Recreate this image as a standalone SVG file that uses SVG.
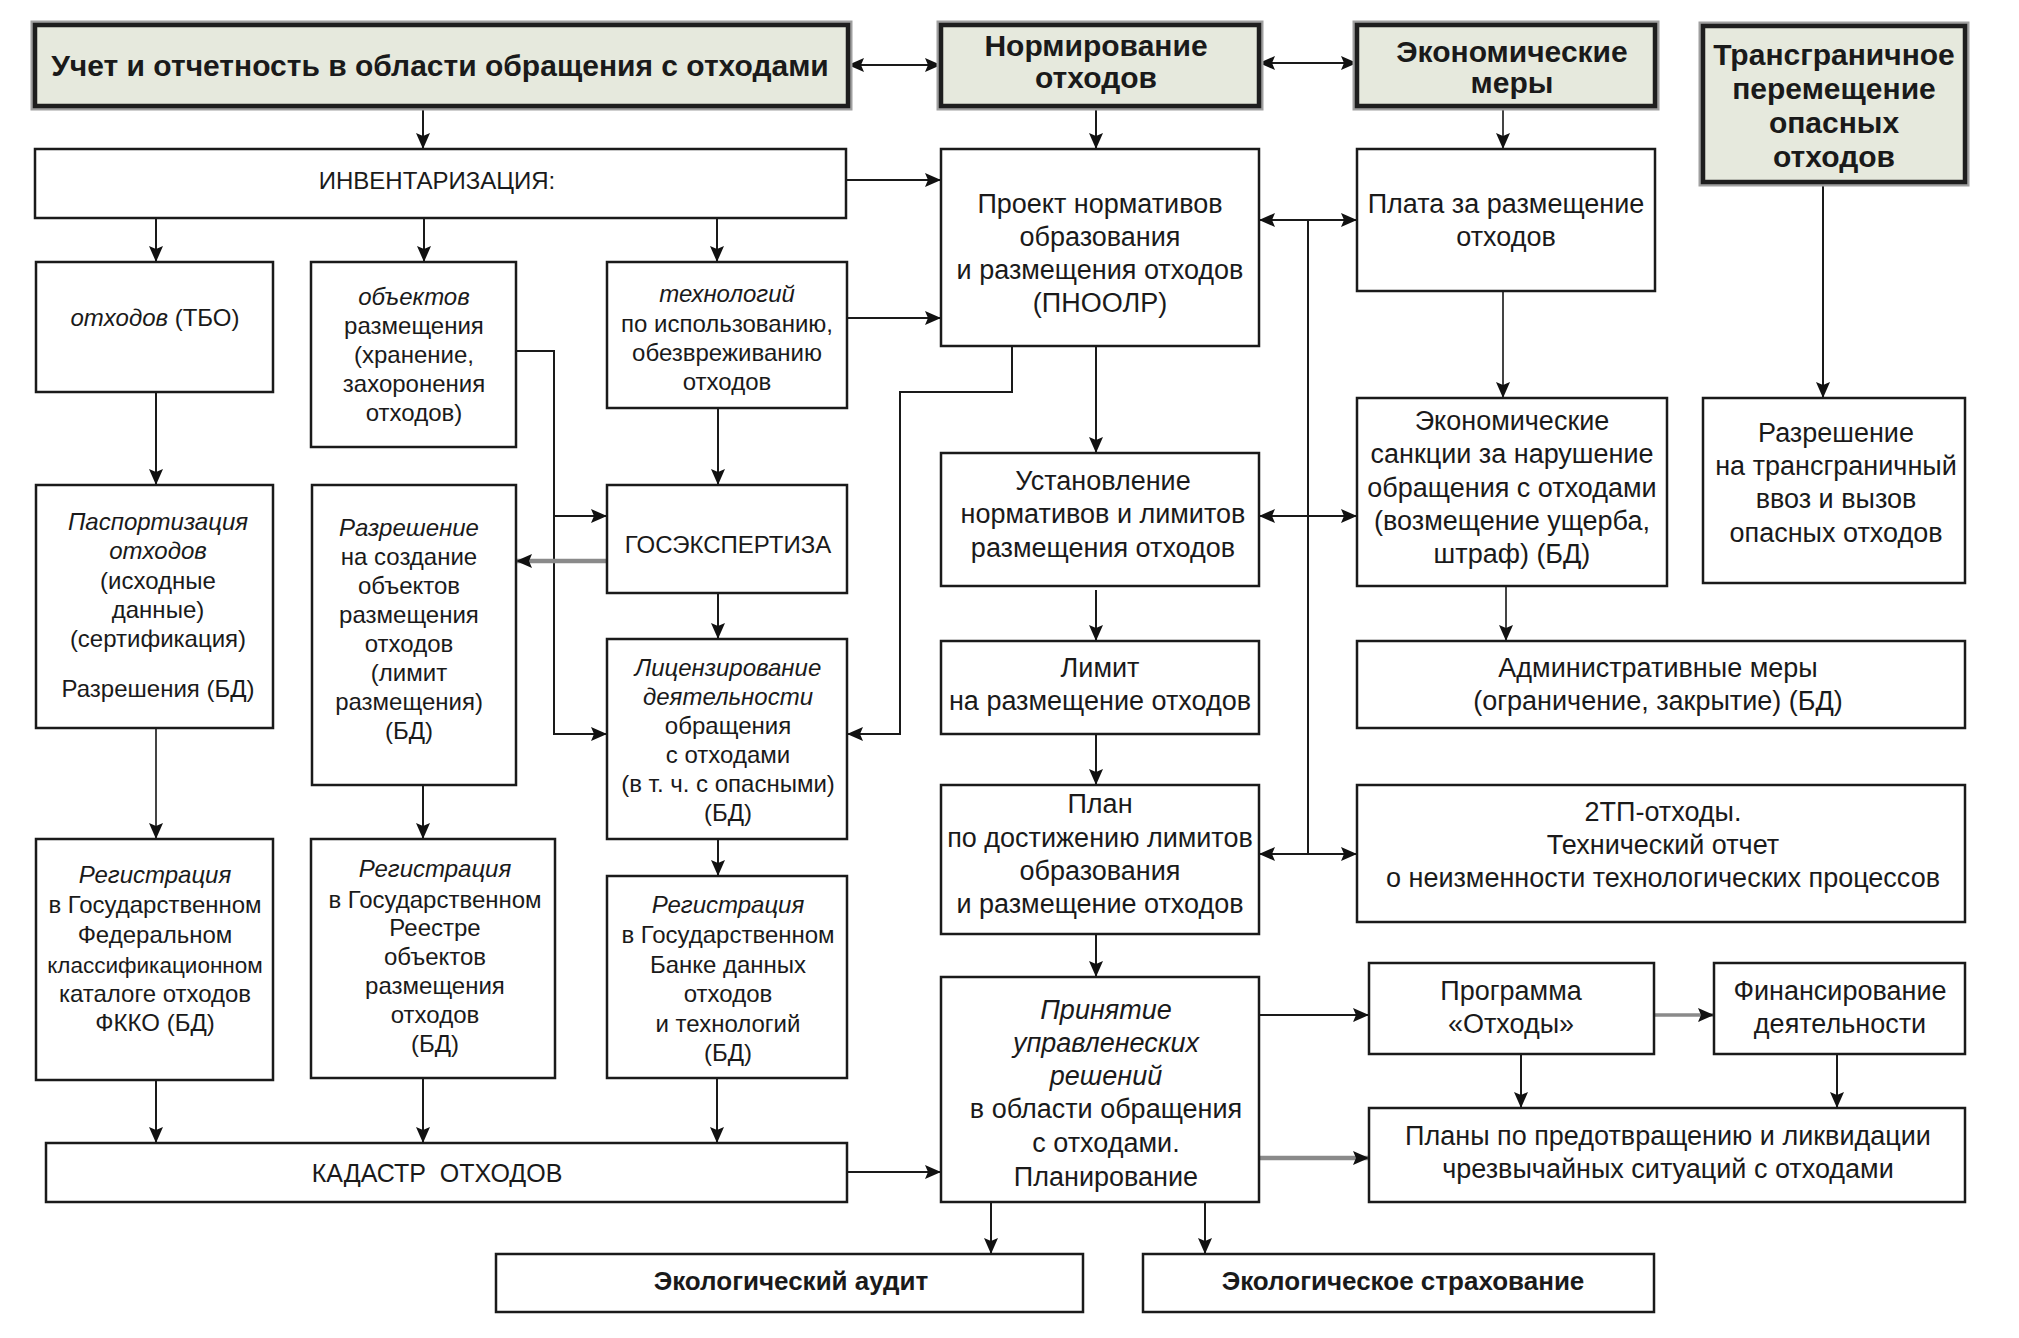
<svg xmlns="http://www.w3.org/2000/svg" width="2019" height="1338" viewBox="0 0 2019 1338">
<style>
.box{fill:#fff;stroke:#1a1a1a;stroke-width:2.5}
.hdr{fill:#e6e9dd;stroke:#1e1e1e;stroke-width:4.5}
.hdrs{fill:none;stroke:#a0a0a0;stroke-width:9}
.t{font-family:"Liberation Sans",Arial,sans-serif;fill:#1a1a1a;text-anchor:middle}
.s24{font-size:24px}
.s25{font-size:25px}
.s27{font-size:27px}
.b{font-weight:bold;font-size:30px}
.b26{font-weight:bold;font-size:26px}
.i{font-style:italic}
.ln{fill:none;stroke:#1a1a1a;stroke-width:2}
.gr{fill:none;stroke:#8a8a8a;stroke-width:4.5}
.g3{fill:none;stroke:#8a8a8a;stroke-width:3.5}
.dk{fill:none;stroke:#444;stroke-width:2}
</style>
<defs>
<marker id="ar" viewBox="0 0 16 16" refX="16" refY="8" markerWidth="16" markerHeight="16" markerUnits="userSpaceOnUse" orient="auto-start-reverse">
<path d="M0,1 L16,8 L0,15 L3,8 z" fill="#111"/>
</marker>
</defs>
<rect width="2019" height="1338" fill="#fff"/>

<g id="connectors">
<path class="ln" d="M848,65 H941" marker-start="url(#ar)" marker-end="url(#ar)"/>
<path class="ln" d="M1259,63 H1357" marker-start="url(#ar)" marker-end="url(#ar)"/>
<path class="ln" d="M423,106 V149" marker-end="url(#ar)"/>
<path class="ln" d="M1096,106 V149" marker-end="url(#ar)"/>
<path class="dk" d="M1503,106 V149" marker-end="url(#ar)"/>
<path class="ln" d="M1823,182 V398" marker-end="url(#ar)"/>
<path class="ln" d="M846,180 H941" marker-end="url(#ar)"/>
<path class="ln" d="M847,318 H941" marker-end="url(#ar)"/>
<path class="ln" d="M156,218 V262" marker-end="url(#ar)"/>
<path class="ln" d="M424,218 V262" marker-end="url(#ar)"/>
<path class="ln" d="M717,218 V262" marker-end="url(#ar)"/>
<path class="ln" d="M516,351 H554 V734 H607" marker-end="url(#ar)"/>
<path class="ln" d="M554,516 H607" marker-end="url(#ar)"/>
<path class="ln" d="M718,408 V485" marker-end="url(#ar)"/>
<path class="gr" d="M607,561 H516" marker-end="url(#ar)"/>
<path class="ln" d="M718,593 V639" marker-end="url(#ar)"/>
<path class="ln" d="M1012,346 V392 H900 V734 H847" marker-end="url(#ar)"/>
<path class="ln" d="M1096,346 V453" marker-end="url(#ar)"/>
<path class="ln" d="M1308,220 V854"/>
<path class="ln" d="M1259,220 H1357" marker-start="url(#ar)" marker-end="url(#ar)"/>
<path class="ln" d="M1259,516 H1357" marker-start="url(#ar)" marker-end="url(#ar)"/>
<path class="ln" d="M1259,854 H1357" marker-start="url(#ar)" marker-end="url(#ar)"/>
<path class="dk" d="M1503,291 V398" marker-end="url(#ar)"/>
<path class="dk" d="M1506,586 V641" marker-end="url(#ar)"/>
<path class="ln" d="M1096,590 V641" marker-end="url(#ar)"/>
<path class="ln" d="M1096,734 V785" marker-end="url(#ar)"/>
<path class="ln" d="M1096,934 V977" marker-end="url(#ar)"/>
<path class="ln" d="M156,392 V485" marker-end="url(#ar)"/>
<path class="dk" d="M156,728 V839" marker-end="url(#ar)"/>
<path class="ln" d="M423,785 V839" marker-end="url(#ar)"/>
<path class="ln" d="M718,839 V876" marker-end="url(#ar)"/>
<path class="ln" d="M156,1080 V1143" marker-end="url(#ar)"/>
<path class="ln" d="M423,1078 V1143" marker-end="url(#ar)"/>
<path class="ln" d="M717,1078 V1143" marker-end="url(#ar)"/>
<path class="ln" d="M847,1172 H941" marker-end="url(#ar)"/>
<path class="ln" d="M1259,1015 H1369" marker-end="url(#ar)"/>
<path class="g3" d="M1654,1015 H1714" marker-end="url(#ar)"/>
<path class="ln" d="M1521,1054 V1108" marker-end="url(#ar)"/>
<path class="ln" d="M1837,1054 V1108" marker-end="url(#ar)"/>
<path class="gr" d="M1259,1158 H1369" marker-end="url(#ar)"/>
<path class="ln" d="M991,1202 V1254" marker-end="url(#ar)"/>
<path class="ln" d="M1205,1202 V1254" marker-end="url(#ar)"/>
</g>

<g id="n-uchet">
<rect class="hdrs" x="35" y="25" width="813" height="81"/>
<rect class="hdr" x="35" y="25" width="813" height="81"/>
<text class="t b" x="440" y="76">Учет и отчетность в области обращения с отходами</text>
</g>
<g id="n-normirovanie">
<rect class="hdrs" x="941" y="25" width="318" height="81"/>
<rect class="hdr" x="941" y="25" width="318" height="81"/>
<text class="t b"><tspan x="1096" y="56">Нормирование</tspan><tspan x="1096" y="88">отходов</tspan></text>
</g>
<g id="n-ekonom">
<rect class="hdrs" x="1357" y="25" width="298" height="81"/>
<rect class="hdr" x="1357" y="25" width="298" height="81"/>
<text class="t b"><tspan x="1512" y="62">Экономические</tspan><tspan x="1512" y="93">меры</tspan></text>
</g>
<g id="n-transgr">
<rect class="hdrs" x="1703" y="26" width="262" height="156"/>
<rect class="hdr" x="1703" y="26" width="262" height="156"/>
<text class="t b"><tspan x="1834" y="65">Трансграничное</tspan><tspan x="1834" y="99">перемещение</tspan><tspan x="1834" y="133">опасных</tspan><tspan x="1834" y="167">отходов</tspan></text>
</g>

<g id="n-inventar">
<rect class="box" x="35" y="149" width="811" height="69"/>
<text class="t s24" x="437" y="189">ИНВЕНТАРИЗАЦИЯ:</text>
</g>
<g id="n-proekt">
<rect class="box" x="941" y="149" width="318" height="197"/>
<text class="t s27"><tspan x="1100" y="213">Проект нормативов</tspan><tspan x="1100" y="246">образования</tspan><tspan x="1100" y="279">и размещения отходов</tspan><tspan x="1100" y="312">(ПНООЛР)</tspan></text>
</g>
<g id="n-plata">
<rect class="box" x="1357" y="149" width="298" height="142"/>
<text class="t s27"><tspan x="1506" y="213">Плата за размещение</tspan><tspan x="1506" y="246">отходов</tspan></text>
</g>
<g id="n-tbo">
<rect class="box" x="36" y="262" width="237" height="130"/>
<text class="t s24" x="155" y="326"><tspan class="i">отходов</tspan> (ТБО)</text>
</g>
<g id="n-obyektov">
<rect class="box" x="311" y="262" width="205" height="185"/>
<text class="t s24"><tspan class="i" x="414" y="305">объектов</tspan><tspan x="414" y="334">размещения</tspan><tspan x="414" y="363">(хранение,</tspan><tspan x="414" y="392">захоронения</tspan><tspan x="414" y="421">отходов)</tspan></text>
</g>
<g id="n-tehnologiy">
<rect class="box" x="607" y="262" width="240" height="146"/>
<text class="t s24"><tspan class="i" x="727" y="302">технологий</tspan><tspan x="727" y="332">по использованию,</tspan><tspan x="727" y="361">обезвреживанию</tspan><tspan x="727" y="390">отходов</tspan></text>
</g>
<g id="n-sankcii">
<rect class="box" x="1357" y="398" width="310" height="188"/>
<text class="t s27"><tspan x="1512" y="430">Экономические</tspan><tspan x="1512" y="463">санкции за нарушение</tspan><tspan x="1512" y="497">обращения с отходами</tspan><tspan x="1512" y="530">(возмещение ущерба,</tspan><tspan x="1512" y="563">штраф) (БД)</tspan></text>
</g>
<g id="n-razr-transgr">
<rect class="box" x="1703" y="398" width="262" height="185"/>
<text class="t s27"><tspan x="1836" y="442">Разрешение</tspan><tspan x="1836" y="475">на трансграничный</tspan><tspan x="1836" y="508">ввоз и вызов</tspan><tspan x="1836" y="542">опасных отходов</tspan></text>
</g>
<g id="n-pasport">
<rect class="box" x="36" y="485" width="237" height="243"/>
<text class="t s24"><tspan class="i" x="158" y="530">Паспортизация</tspan><tspan class="i" x="158" y="559">отходов</tspan><tspan x="158" y="589">(исходные</tspan><tspan x="158" y="618">данные)</tspan><tspan x="158" y="647">(сертификация)</tspan><tspan x="158" y="697">Разрешения (БД)</tspan></text>
</g>
<g id="n-razr-sozd">
<rect class="box" x="312" y="485" width="204" height="300"/>
<text class="t s24"><tspan class="i" x="409" y="536">Разрешение</tspan><tspan x="409" y="565">на создание</tspan><tspan x="409" y="594">объектов</tspan><tspan x="409" y="623">размещения</tspan><tspan x="409" y="652">отходов</tspan><tspan x="409" y="681">(лимит</tspan><tspan x="409" y="710">размещения)</tspan><tspan x="409" y="739">(БД)</tspan></text>
</g>
<g id="n-gosexp">
<rect class="box" x="607" y="485" width="240" height="108"/>
<text class="t s24" x="728" y="553">ГОСЭКСПЕРТИЗА</text>
</g>
<g id="n-licenz">
<rect class="box" x="607" y="639" width="240" height="200"/>
<text class="t s24"><tspan class="i" x="728" y="676">Лицензирование</tspan><tspan class="i" x="728" y="705">деятельности</tspan><tspan x="728" y="734">обращения</tspan><tspan x="728" y="763">с отходами</tspan><tspan x="728" y="792">(в т. ч. с опасными)</tspan><tspan x="728" y="821">(БД)</tspan></text>
</g>
<g id="n-ustanovl">
<rect class="box" x="941" y="453" width="318" height="133"/>
<text class="t s27"><tspan x="1103" y="490">Установление</tspan><tspan x="1103" y="523">нормативов и лимитов</tspan><tspan x="1103" y="557">размещения отходов</tspan></text>
</g>
<g id="n-limit">
<rect class="box" x="941" y="641" width="318" height="93"/>
<text class="t s27"><tspan x="1100" y="677">Лимит</tspan><tspan x="1100" y="710">на размещение отходов</tspan></text>
</g>
<g id="n-admin">
<rect class="box" x="1357" y="641" width="608" height="87"/>
<text class="t s27"><tspan x="1658" y="677">Административные меры</tspan><tspan x="1658" y="710">(ограничение, закрытие) (БД)</tspan></text>
</g>
<g id="n-plan">
<rect class="box" x="941" y="785" width="318" height="149"/>
<text class="t s27"><tspan x="1100" y="813">План</tspan><tspan x="1100" y="847">по достижению лимитов</tspan><tspan x="1100" y="880">образования</tspan><tspan x="1100" y="913">и размещение отходов</tspan></text>
</g>
<g id="n-2tp">
<rect class="box" x="1357" y="785" width="608" height="137"/>
<text class="t s27"><tspan x="1663" y="821">2ТП-отходы.</tspan><tspan x="1663" y="854">Технический отчет</tspan><tspan x="1663" y="887">о неизменности технологических процессов</tspan></text>
</g>
<g id="n-fkko">
<rect class="box" x="36" y="839" width="237" height="241"/>
<text class="t s24"><tspan class="i" x="155" y="883">Регистрация</tspan><tspan x="155" y="913">в Государственном</tspan><tspan x="155" y="943">Федеральном</tspan><tspan x="155" y="973" font-size="22.5">классификационном</tspan><tspan x="155" y="1002">каталоге отходов</tspan><tspan x="155" y="1031">ФККО (БД)</tspan></text>
</g>
<g id="n-reestr">
<rect class="box" x="311" y="839" width="244" height="239"/>
<text class="t s24"><tspan class="i" x="435" y="877">Регистрация</tspan><tspan x="435" y="908">в Государственном</tspan><tspan x="435" y="936">Реестре</tspan><tspan x="435" y="965">объектов</tspan><tspan x="435" y="994">размещения</tspan><tspan x="435" y="1023">отходов</tspan><tspan x="435" y="1052">(БД)</tspan></text>
</g>
<g id="n-bank">
<rect class="box" x="607" y="876" width="240" height="202"/>
<text class="t s24"><tspan class="i" x="728" y="913">Регистрация</tspan><tspan x="728" y="943">в Государственном</tspan><tspan x="728" y="973">Банке данных</tspan><tspan x="728" y="1002">отходов</tspan><tspan x="728" y="1032">и технологий</tspan><tspan x="728" y="1061">(БД)</tspan></text>
</g>
<g id="n-prinyatie">
<rect class="box" x="941" y="977" width="318" height="225"/>
<text class="t s27"><tspan class="i" x="1106" y="1019">Принятие</tspan><tspan class="i" x="1106" y="1052">управленеских</tspan><tspan class="i" x="1106" y="1085">решений</tspan><tspan x="1106" y="1118">в области обращения</tspan><tspan x="1106" y="1152">с отходами.</tspan><tspan x="1106" y="1186">Планирование</tspan></text>
</g>
<g id="n-programma">
<rect class="box" x="1369" y="963" width="285" height="91"/>
<text class="t s27"><tspan x="1511" y="1000">Программа</tspan><tspan x="1511" y="1033">«Отходы»</tspan></text>
</g>
<g id="n-finans">
<rect class="box" x="1714" y="963" width="251" height="91"/>
<text class="t s27"><tspan x="1840" y="1000">Финансирование</tspan><tspan x="1840" y="1033">деятельности</tspan></text>
</g>
<g id="n-plany">
<rect class="box" x="1369" y="1108" width="596" height="94"/>
<text class="t s27"><tspan x="1668" y="1145">Планы по предотвращению и ликвидации</tspan><tspan x="1668" y="1178">чрезвычайных ситуаций с отходами</tspan></text>
</g>
<g id="n-kadastr">
<rect class="box" x="46" y="1143" width="801" height="59"/>
<text class="t s25" x="437" y="1182">КАДАСТР&#160; ОТХОДОВ</text>
</g>
<g id="n-audit">
<rect class="box" x="496" y="1254" width="587" height="58"/>
<text class="t b26" x="791" y="1290">Экологический аудит</text>
</g>
<g id="n-strah">
<rect class="box" x="1143" y="1254" width="511" height="58"/>
<text class="t b26" x="1403" y="1290">Экологическое страхование</text>
</g>
</svg>
